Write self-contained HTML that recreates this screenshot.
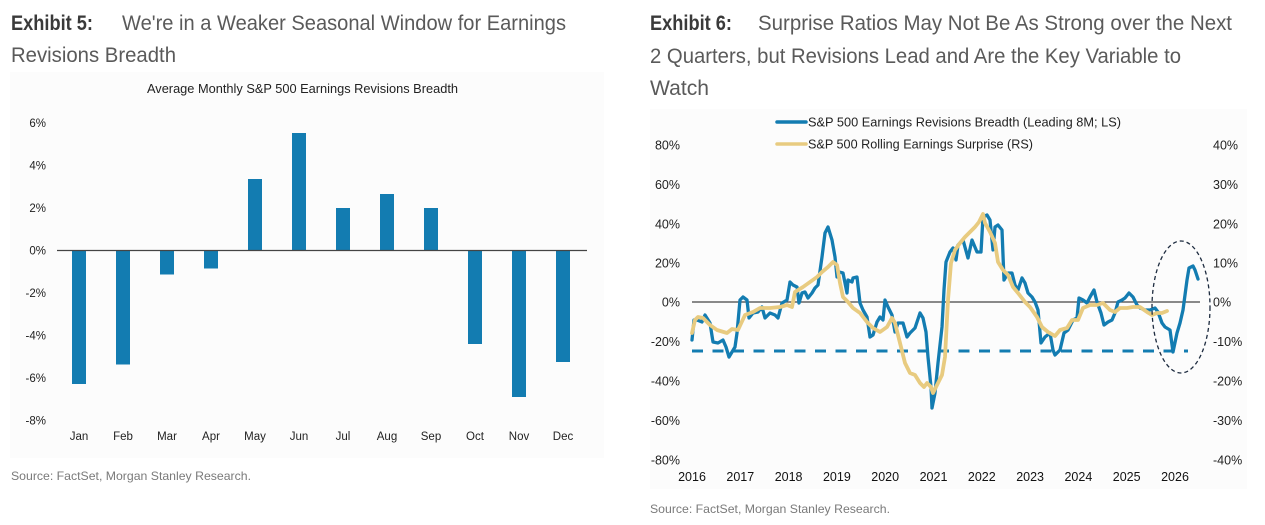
<!DOCTYPE html>
<html>
<head>
<meta charset="utf-8">
<style>
html,body{margin:0;padding:0;background:#ffffff;}
body{width:1265px;height:525px;overflow:hidden;}
svg{display:block;font-family:"Liberation Sans",Arial,sans-serif;}
</style>
</head>
<body>
<svg width="1265" height="525" viewBox="0 0 1265 525" xmlns="http://www.w3.org/2000/svg">
  <!-- ============ LEFT EXHIBIT ============ -->
  <text x="11" y="30" font-size="21" font-weight="bold" fill="#3a3a3a" textLength="82" lengthAdjust="spacingAndGlyphs">Exhibit 5:</text>
  <text x="122" y="30" font-size="21" fill="#5a5a5a" textLength="444" lengthAdjust="spacingAndGlyphs">We're in a Weaker Seasonal Window for Earnings</text>
  <text x="11" y="62" font-size="21" fill="#5a5a5a" textLength="165" lengthAdjust="spacingAndGlyphs">Revisions Breadth</text>

  <rect x="10" y="72" width="594" height="386" fill="#fcfcfc"/>
  <text x="147" y="93" font-size="12.5" fill="#222" textLength="311" lengthAdjust="spacingAndGlyphs">Average Monthly S&amp;P 500 Earnings Revisions Breadth</text>

  <g font-size="11.5" fill="#222" text-anchor="end">
    <text x="46" y="127">6%</text>
    <text x="46" y="169.5">4%</text>
    <text x="46" y="212">2%</text>
    <text x="46" y="254.5">0%</text>
    <text x="46" y="297">-2%</text>
    <text x="46" y="339.5">-4%</text>
    <text x="46" y="382">-6%</text>
    <text x="46" y="424.5">-8%</text>
  </g>

  <g fill="#137cb1">
    <rect x="72" y="250.5" width="14" height="133.5"/>
    <rect x="116" y="250.5" width="14" height="114"/>
    <rect x="160" y="250.5" width="14" height="24"/>
    <rect x="204" y="250.5" width="14" height="18"/>
    <rect x="248" y="179" width="14" height="71.5"/>
    <rect x="292" y="133" width="14" height="117.5"/>
    <rect x="336" y="208" width="14" height="42.5"/>
    <rect x="380" y="194" width="14" height="56.5"/>
    <rect x="424" y="208" width="14" height="42.5"/>
    <rect x="468" y="250.5" width="14" height="93.5"/>
    <rect x="512" y="250.5" width="14" height="146.5"/>
    <rect x="556" y="250.5" width="14" height="111.5"/>
  </g>
  <line x1="57" y1="250.5" x2="587" y2="250.5" stroke="#444" stroke-width="1.2"/>

  <g font-size="11.5" fill="#222" text-anchor="middle">
    <text x="79" y="440">Jan</text>
    <text x="123" y="440">Feb</text>
    <text x="167" y="440">Mar</text>
    <text x="211" y="440">Apr</text>
    <text x="255" y="440">May</text>
    <text x="299" y="440">Jun</text>
    <text x="343" y="440">Jul</text>
    <text x="387" y="440">Aug</text>
    <text x="431" y="440">Sep</text>
    <text x="475" y="440">Oct</text>
    <text x="519" y="440">Nov</text>
    <text x="563" y="440">Dec</text>
  </g>

  <text x="11" y="480" font-size="12" fill="#7a7a7a" textLength="240" lengthAdjust="spacingAndGlyphs">Source: FactSet, Morgan Stanley Research.</text>

  <!-- ============ RIGHT EXHIBIT ============ -->
  <text x="650" y="30" font-size="21" font-weight="bold" fill="#3a3a3a" textLength="82" lengthAdjust="spacingAndGlyphs">Exhibit 6:</text>
  <text x="758" y="30" font-size="21" fill="#5a5a5a" textLength="474" lengthAdjust="spacingAndGlyphs">Surprise Ratios May Not Be As Strong over the Next</text>
  <text x="650" y="63" font-size="21" fill="#5a5a5a" textLength="531" lengthAdjust="spacingAndGlyphs">2 Quarters, but Revisions Lead and Are the Key Variable to</text>
  <text x="650" y="95" font-size="21" fill="#5a5a5a" textLength="59" lengthAdjust="spacingAndGlyphs">Watch</text>

  <rect x="650" y="109" width="597" height="380" fill="#fcfcfc"/>

  <!-- legend -->
  <line x1="777" y1="122" x2="806" y2="122" stroke="#137cb1" stroke-width="3.5" stroke-linecap="round"/>
  <text x="808" y="126.5" font-size="12.5" fill="#222" textLength="313" lengthAdjust="spacingAndGlyphs">S&amp;P 500 Earnings Revisions Breadth (Leading 8M; LS)</text>
  <line x1="777" y1="144" x2="806" y2="144" stroke="#e8cb80" stroke-width="3.5" stroke-linecap="round"/>
  <text x="808" y="148.5" font-size="12.5" fill="#222" textLength="225" lengthAdjust="spacingAndGlyphs">S&amp;P 500 Rolling Earnings Surprise (RS)</text>

  <!-- left axis labels -->
  <g font-size="12.5" fill="#222" text-anchor="end">
    <text x="680" y="149.5">80%</text>
    <text x="680" y="189">60%</text>
    <text x="680" y="228.5">40%</text>
    <text x="680" y="267.5">20%</text>
    <text x="680" y="306.5">0%</text>
    <text x="680" y="346">-20%</text>
    <text x="680" y="385.5">-40%</text>
    <text x="680" y="425">-60%</text>
    <text x="680" y="464.5">-80%</text>
  </g>
  <!-- right axis labels -->
  <g font-size="12.5" fill="#222" text-anchor="start">
    <text x="1213" y="149.5">40%</text>
    <text x="1213" y="189">30%</text>
    <text x="1213" y="228.5">20%</text>
    <text x="1213" y="267.5">10%</text>
    <text x="1213" y="306.5">0%</text>
    <text x="1213" y="346">-10%</text>
    <text x="1213" y="385.5">-20%</text>
    <text x="1213" y="425">-30%</text>
    <text x="1213" y="464.5">-40%</text>
  </g>
  <!-- x labels -->
  <g font-size="12.5" fill="#111" text-anchor="middle">
    <text x="692" y="481">2016</text>
    <text x="740.3" y="481">2017</text>
    <text x="788.6" y="481">2018</text>
    <text x="836.9" y="481">2019</text>
    <text x="885.2" y="481">2020</text>
    <text x="933.5" y="481">2021</text>
    <text x="981.8" y="481">2022</text>
    <text x="1030.1" y="481">2023</text>
    <text x="1078.4" y="481">2024</text>
    <text x="1126.7" y="481">2025</text>
    <text x="1175" y="481">2026</text>
  </g>

  <!-- zero line -->
  <line x1="692" y1="302" x2="1200" y2="302" stroke="#444" stroke-width="1.2"/>

  <!-- dashed threshold -->
  <line x1="692" y1="351" x2="1188" y2="351" stroke="#137cb1" stroke-width="3" stroke-dasharray="11 9.5"/>

  <!-- blue series -->
  <polyline fill="none" stroke="#137cb1" stroke-width="3.3" stroke-linejoin="round" stroke-linecap="round"
    points="692,340 694,320 697,320 702,322 705,315 710,323 713,342 718,343 723,340 726,347 729,357 735,347 737,333 740,300 743,297 747,300 749,318 753,313 758,312 762,307 765,318 770,313 775,315 778,318 782,303 787,300 790,282 793,285 797,287 799,303 802,293 805,292 808,298 812,293 815,288 818,285 822,257 825,233 828,227 832,240 835,257 837,277 839,272 843,273 847,293 848,280 852,282 853,278 857,277 860,303 863,310 867,317 870,337 873,335 877,322 880,317 883,320 885,300 888,307 892,315 895,332 898,323 903,323 907,337 910,333 915,328 920,313 923,318 926,332 928,357 931,387 932,408 935,393 938,363 942,327 944,290 946,262 950,252 953,248 956,260 958,245 963,240 968,258 972,240 977,252 981,252 983,217 987,215 990,220 993,250 995,227 998,225 1002,230 1004,280 1008,273 1012,273 1015,285 1018,290 1022,278 1025,283 1028,293 1032,297 1035,302 1038,310 1041,343 1045,337 1050,333 1053,350 1055,355 1060,350 1064,333 1068,330 1073,320 1077,318 1079,298 1083,300 1087,303 1090,297 1094,290 1097,302 1101,313 1104,325 1108,322 1112,320 1115,313 1118,302 1122,300 1125,298 1129,293 1133,297 1137,305 1140,308 1145,310 1150,310 1155,308 1158,312 1162,323 1165,327 1170,330 1173,352 1177,333 1180,323 1183,310 1187,280 1189,268 1193,266 1195,270 1198,279"/>

  <!-- yellow series -->
  <polyline fill="none" stroke="#e8cb80" stroke-width="3.8" stroke-linejoin="round" stroke-linecap="round"
    points="692,333 695,320 698,317 703,318 710,325 717,330 727,333 732,329 738,330 745,315 753,312 760,308 770,308 780,307 787,305 792,307 795,292 803,287 810,282 817,277 822,272 828,267 833,262 837,265 840,283 843,297 848,302 853,308 860,313 867,322 873,328 880,332 887,327 892,318 895,323 900,343 905,363 910,373 915,375 920,383 924,387 927,383 931,387 933,393 938,383 942,375 945,357 948,300 951,263 955,250 960,243 965,237 970,232 975,227 979,222 983,214 985,223 990,232 995,243 998,262 1003,270 1008,275 1013,287 1018,293 1025,302 1030,307 1037,317 1042,327 1048,332 1055,336 1060,330 1067,328 1072,320 1078,320 1083,308 1090,305 1097,305 1103,303 1110,310 1115,312 1120,308 1127,308 1133,307 1140,307 1147,312 1152,315 1157,313 1162,313 1167,311"/>

  <!-- dashed ellipse -->
  <ellipse cx="1181" cy="307" rx="29" ry="66" fill="none" stroke="#1d2b3f" stroke-width="1.3" stroke-dasharray="4 3"/>

  <text x="650" y="513" font-size="12" fill="#7a7a7a" textLength="240" lengthAdjust="spacingAndGlyphs">Source: FactSet, Morgan Stanley Research.</text>
</svg>
</body>
</html>
